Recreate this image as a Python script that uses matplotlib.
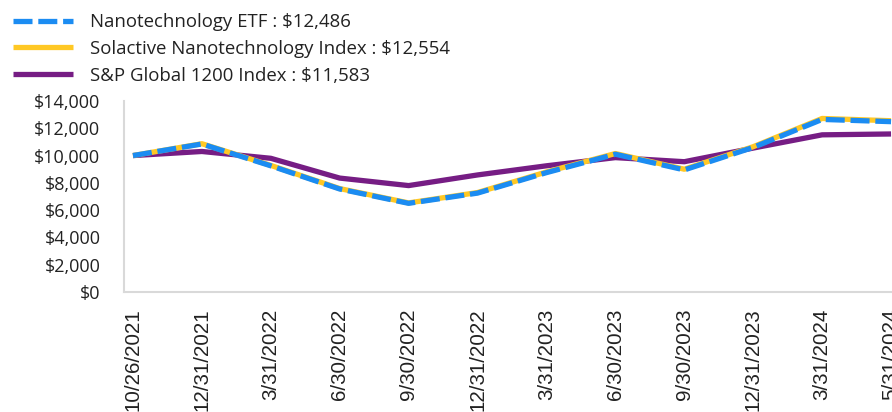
import matplotlib

matplotlib.use("Agg")
import matplotlib.pyplot as plt
from matplotlib.ticker import FuncFormatter

# Growth of $10,000
dates = ["10/26/2021", "12/31/2021", "3/31/2022", "6/30/2022", "9/30/2022",
         "12/31/2022", "3/31/2023", "6/30/2023", "9/30/2023", "12/31/2023",
         "3/31/2024", "5/31/2024"]
etf = [10000, 10850, 9250, 7550, 6500, 7250, 8750, 10100, 8950, 10600, 12650, 12486]
solactive = [10000, 10870, 9280, 7580, 6530, 7290, 8800, 10150, 9000, 10650, 12720, 12554]
sp_global = [10000, 10300, 9800, 8350, 7800, 8580, 9250, 9850, 9550, 10550, 11520, 11583]

labels = [
    "Nanotechnology ETF : $12,486",
    "Solactive Nanotechnology Index : $12,554",
    "S&P Global 1200 Index : $11,583",
]

BLUE = "#1B8CF2"
YELLOW = "#FFC824"
PURPLE = "#761D84"
TEXT = "#222222"
AXIS = "#D9D9D9"

plt.rcParams["font.family"] = ["Open Sans", "DejaVu Sans"]

fig = plt.figure(figsize=(8.92, 4.12), dpi=100)
# axes deliberately run past the right edge, as in the reference
ax = fig.add_axes([124 / 892, 120 / 412, 776 / 892, 191 / 412])

x = list(range(len(dates)))
l_sp, = ax.plot(x, sp_global, color=PURPLE, lw=3.8, solid_capstyle="butt", zorder=2)
l_sol, = ax.plot(x, solactive, color=YELLOW, lw=3.8, solid_capstyle="butt", zorder=3)
l_etf, = ax.plot(x, etf, color=BLUE, lw=3.8, dashes=(3.6, 1.1),
                 dash_capstyle="butt", zorder=4)

ax.set_xlim(-0.13, len(dates) - 1 + 0.13)
ax.set_ylim(0, 14000)
ax.set_yticks(range(0, 14001, 2000))
ax.yaxis.set_major_formatter(FuncFormatter(lambda v, p: f"${v:,.0f}"))
ax.set_xticks(x)
ax.set_xticklabels(dates, rotation=90, va="top", ha="center",
                   family=["Liberation Sans", "DejaVu Sans"], fontsize=14.8)

ax.tick_params(axis="both", length=0, colors=TEXT)
ax.tick_params(axis="y", pad=17, labelsize=13)
ax.tick_params(axis="x", pad=12)

for side in ("top", "right"):
    ax.spines[side].set_visible(False)
for side in ("left", "bottom"):
    ax.spines[side].set_color(AXIS)
    ax.spines[side].set_linewidth(1.5)

fig.legend([l_etf, l_sol, l_sp], labels, loc="upper left",
           bbox_to_anchor=(0.0, 1.0), frameon=False, fontsize=13.4,
           handlelength=3.2, handletextpad=0.95, labelspacing=0.48,
           borderaxespad=0.3, labelcolor=TEXT)

fig.savefig("out.png", dpi=100)
plt.close(fig)
